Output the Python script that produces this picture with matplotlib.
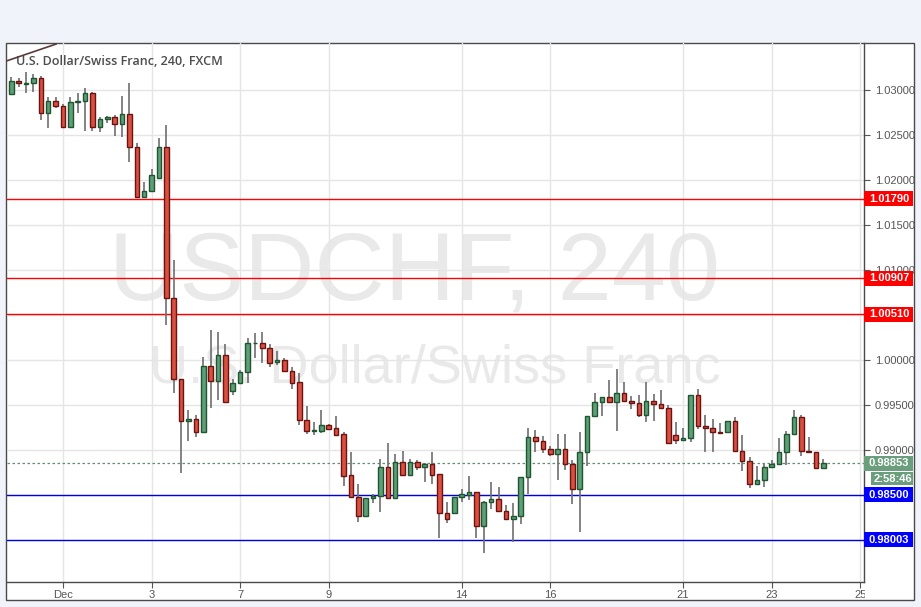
import numpy as np
import matplotlib
matplotlib.use("Agg")
import matplotlib.pyplot as plt
import matplotlib.transforms as mtransforms
from matplotlib.patches import Rectangle

# USD/CHF 4h candles, Nov 30 - Dec 24
opens = [1.02956, 1.03097, 1.03072, 1.03074, 1.03130, 1.02741, 1.02881, 1.02826, 1.02592, 1.02863,
         1.02881, 1.02963, 1.02586, 1.02674, 1.02697, 1.02619, 1.02730, 1.02363, 1.01814, 1.01874,
         1.02019, 1.02363, 1.00686, 0.99786, 0.99322, 0.99341, 0.99203, 0.99933, 0.99770, 1.00056,
         0.99652, 0.99741, 0.99863, 1.00186, 1.00186, 1.00130, 0.99974, 0.99997, 0.99881, 0.99756,
         0.99333, 0.99208, 0.99214, 0.99274, 0.99244, 0.99174, 0.98719, 0.98474, 0.98270, 0.98463,
         0.98489, 0.98811, 0.98463, 0.98867, 0.98719, 0.98867, 0.98814, 0.98844, 0.98730, 0.98303,
         0.98303, 0.98474, 0.98500, 0.98530, 0.98159, 0.98419, 0.98456, 0.98319, 0.98230, 0.98267,
         0.98697, 0.99141, 0.99097, 0.99008, 0.98952, 0.99008, 0.98841, 0.98563, 0.98974, 0.99374,
         0.99530, 0.99586, 0.99530, 0.99630, 0.99541, 0.99519, 0.99386, 0.99541, 0.99508, 0.99463,
         0.99163, 0.99108, 0.99130, 0.99608, 0.99263, 0.99241, 0.99197, 0.99197, 0.99319, 0.98986,
         0.98874, 0.98619, 0.98663, 0.98808, 0.98841, 0.98974, 0.99174, 0.99363, 0.98986, 0.98974,
         0.98797]
highs = [1.03141, 1.03130, 1.03197, 1.03174, 1.03156, 1.02922, 1.02922, 1.02844, 1.02919, 1.02963,
         1.03019, 1.02974, 1.02697, 1.02711, 1.02722, 1.02933, 1.03078, 1.02408, 1.01978, 1.02122,
         1.02467, 1.02611, 1.01111, 0.99790, 0.99444, 0.99386, 1.00037, 1.00333, 1.00314, 1.00178,
         0.99786, 0.99889, 1.00241, 1.00297, 1.00311, 1.00178, 1.00100, 1.00019, 0.99926, 0.99852,
         0.99489, 0.99308, 0.99444, 0.99286, 0.99378, 0.99200, 0.98978, 0.98622, 0.98467, 0.98511,
         0.98897, 0.99074, 0.98956, 0.98989, 0.98900, 0.98889, 0.98852, 0.98978, 0.98733, 0.98422,
         0.98481, 0.98567, 0.98708, 0.98533, 0.98430, 0.98644, 0.98586, 0.98389, 0.98411, 0.98700,
         0.99244, 0.99222, 0.99156, 0.99039, 0.99178, 0.99178, 0.98889, 0.99197, 0.99378, 0.99630,
         0.99589, 0.99774, 0.99897, 0.99752, 0.99597, 0.99608, 0.99752, 0.99619, 0.99663, 0.99497,
         0.99308, 0.99241, 0.99608, 0.99674, 0.99386, 0.99341, 0.99297, 0.99319, 0.99363, 0.99163,
         0.98919, 0.98819, 0.98841, 0.98886, 0.99130, 0.99208, 0.99441, 0.99386, 0.99141, 0.98974,
         0.98897]
lows = [1.02944, 1.03030, 1.02970, 1.02981, 1.02667, 1.02581, 1.02803, 1.02581, 1.02581, 1.02748,
        1.02548, 1.02548, 1.02537, 1.02630, 1.02492, 1.02481, 1.02203, 1.01797, 1.01797, 1.01872,
        1.02017, 1.00389, 0.99630, 0.98748, 0.99103, 0.99148, 0.99186, 0.99463, 0.99556, 0.99519,
        0.99614, 0.99739, 0.99748, 1.00019, 0.99970, 0.99926, 0.99944, 0.99881, 0.99678, 0.99281,
        0.99178, 0.99167, 0.99192, 0.99233, 0.99167, 0.98603, 0.98472, 0.98197, 0.98267, 0.98414,
        0.98314, 0.98463, 0.98461, 0.98717, 0.98717, 0.98778, 0.98648, 0.98622, 0.98026, 0.98186,
        0.98289, 0.98426, 0.98444, 0.98026, 0.97859, 0.98348, 0.98317, 0.98228, 0.97981, 0.98174,
        0.98511, 0.98981, 0.98970, 0.98928, 0.98667, 0.98778, 0.98397, 0.98092, 0.98822, 0.99372,
        0.99374, 0.99528, 0.99206, 0.99539, 0.99452, 0.99370, 0.99308, 0.99319, 0.99461, 0.99072,
        0.99063, 0.99106, 0.99086, 0.99230, 0.98974, 0.98981, 0.99194, 0.99194, 0.98983, 0.98763,
        0.98574, 0.98617, 0.98586, 0.98797, 0.98830, 0.98830, 0.99172, 0.98930, 0.98972, 0.98794,
        0.98794]
closes = [1.03097, 1.03074, 1.03074, 1.03130, 1.02741, 1.02881, 1.02826, 1.02592, 1.02863, 1.02881,
          1.02963, 1.02586, 1.02674, 1.02697, 1.02619, 1.02730, 1.02363, 1.01814, 1.01874, 1.02052,
          1.02363, 1.00686, 0.99786, 0.99322, 0.99341, 0.99203, 0.99933, 0.99770, 1.00056, 0.99530,
          0.99741, 0.99863, 1.00186, 1.00186, 1.00130, 0.99970, 0.99997, 0.99881, 0.99748, 0.99333,
          0.99208, 0.99222, 0.99274, 0.99237, 0.99170, 0.98714, 0.98474, 0.98270, 0.98467, 0.98489,
          0.98811, 0.98463, 0.98867, 0.98719, 0.98867, 0.98814, 0.98844, 0.98726, 0.98303, 0.98237,
          0.98474, 0.98508, 0.98530, 0.98159, 0.98419, 0.98456, 0.98319, 0.98230, 0.98267, 0.98697,
          0.99141, 0.99097, 0.99008, 0.98952, 0.99008, 0.98841, 0.98563, 0.98974, 0.99374, 0.99530,
          0.99586, 0.99530, 0.99630, 0.99541, 0.99519, 0.99386, 0.99541, 0.99508, 0.99463, 0.99074,
          0.99108, 0.99130, 0.99608, 0.99263, 0.99241, 0.99197, 0.99194, 0.99319, 0.98986, 0.98874,
          0.98619, 0.98663, 0.98808, 0.98841, 0.98974, 0.99174, 0.99363, 0.98986, 0.98974, 0.98797,
          0.98853]

# date labels on the bar index axis
date_ticks = [7, 19, 31, 43, 61, 73, 91, 103, 115]
date_labels = ["Dec", "3", "7", "9", "14", "16", "21", "23", "25"]

# price ticks; the ones sitting under a level tag show no label
price_ticks = [0.980, 0.985, 0.990, 0.995, 1.000, 1.005, 1.010, 1.015, 1.020, 1.025, 1.030]
price_labels = ["", "", "0.99000", "0.99500", "1.00000", "", "1.01000", "1.01500",
                "1.02000", "1.02500", "1.03000"]

# drawn support / resistance levels
red_levels = [1.01790, 1.00907, 1.00510]
blue_levels = [0.98500, 0.98003]
last_price = 0.98853
countdown = "2:58:46"

W, H = 921, 607
fig = plt.figure(figsize=(W / 100, H / 100), dpi=100, facecolor="#f0f3fa")

# white chart frame
fig.patches.append(Rectangle((6 / W, 1 - 600 / H), 908 / W, 557 / H, transform=fig.transFigure,
                             facecolor="white", edgecolor="#4a4a4a", lw=1.0, zorder=-1))

ax = fig.add_axes([7 / W, 1 - 582 / H, 857 / W, 539 / H])
ax.set_facecolor("none")
ax.set_xlim(-0.58, 115.5)
ax.set_ylim(0.975333, 1.035222)

for s in ["left", "top"]:
    ax.spines[s].set_visible(False)
for s in ["right", "bottom"]:
    ax.spines[s].set_color("#4a4a4a")
    ax.spines[s].set_linewidth(1.0)

ax.yaxis.tick_right()
ax.set_yticks(price_ticks)
ax.set_yticklabels(price_labels)
ax.set_xticks(date_ticks)
ax.set_xticklabels(date_labels)
ax.tick_params(axis="both", colors="#555555", labelsize=8, length=4, width=0.8)
ax.tick_params(axis="y", pad=4)
ax.tick_params(axis="x", pad=2)
for t in ax.get_xticklabels() + ax.get_yticklabels():
    t.set_fontfamily("Liberation Sans")
    t.set_color("#555555")
ax.grid(True, color="#e5e5e5", lw=1.0, zorder=1)
ax.set_axisbelow(True)

# watermark
ax.text(0.475, 0.57, "USDCHF, 240", transform=ax.transAxes, ha="center", va="center",
        fontsize=70, color="#e9e9e9", family="Liberation Sans", zorder=0.5)
ax.text(0.4995, 0.397, "U.S. Dollar/Swiss Franc", transform=ax.transAxes, ha="center", va="center",
        fontsize=39, color="#e9e9e9", family="Liberation Sans", zorder=0.5)

# title and the small drawn line in the corner
ax.text(0.011, 0.966, "U.S. Dollar/Swiss Franc, 240, FXCM", transform=ax.transAxes, ha="left",
        va="center", fontsize=9.1, color="#4d4d4d", family="Open Sans", weight="semibold", zorder=6)
ax.plot([0.0, 0.0572], [0.967, 0.998], transform=ax.transAxes, color="#5a3a3a", lw=1.2,
        clip_on=False, zorder=6)

# candles
idx = np.arange(len(opens))
o = np.array(opens)
h = np.array(highs)
l = np.array(lows)
c = np.array(closes)
up = c >= o
ax.vlines(idx, l, h, color="#6e6e6e", lw=1.2, zorder=3)
bw = 0.62
for i in idx:
    lo, hi = min(o[i], c[i]), max(o[i], c[i])
    if up[i]:
        fc, ec = "#5e9e78", "#1f5630"
    else:
        fc, ec = "#d9503f", "#6b1212"
    ax.add_patch(Rectangle((i - bw / 2, lo), bw, max(hi - lo, 0.00003), facecolor=fc,
                           edgecolor=ec, lw=1.0, zorder=4))

# horizontal levels
for lv in red_levels:
    ax.axhline(lv, color="#ff0000", lw=1.0, zorder=2.8)
for lv in blue_levels:
    ax.axhline(lv, color="#0000dd", lw=1.0, zorder=2.8)
ax.axhline(last_price, color="#5f8f72", lw=0.9, ls=(0, (2, 2)), zorder=2.8)

# price tags on the right axis
trans = mtransforms.blended_transform_factory(ax.transAxes, ax.transData)
px = 1 / 857
py = (1.035222 - 0.975333) / 539


def tag(price, text, color, x0=0.0, dy=0.0, hpx=15):
    yc = price + dy
    ax.add_patch(Rectangle((1 + x0 * px, yc - hpx / 2 * py), (49 - x0) * px, hpx * py, transform=trans,
                           facecolor=color, edgecolor="none", clip_on=False, zorder=7))
    ax.text(1 + (x0 + 49) / 2 * px + 0.5 * px, yc, text, transform=trans, ha="center", va="center",
            fontsize=8, color="white", weight="bold", family="Liberation Sans", clip_on=False, zorder=8)


for lv in red_levels:
    tag(lv, f"{lv:.5f}", "#ff0000")
for lv in blue_levels:
    tag(lv, f"{lv:.5f}", "#0000ff")
tag(last_price, f"{last_price:.5f}", "#6a9e7d")
tag(last_price, countdown, "#6a9e7d", x0=7, dy=-15.5 * py, hpx=13)

# hide the part of the last date label that runs past the price axis
fig.patches.append(Rectangle((865 / W, 1 - 599 / H), 48 / W, 15 / H, transform=fig.transFigure,
                             facecolor="white", edgecolor="none", zorder=5))

fig.savefig("out.png", dpi=100, facecolor=fig.get_facecolor())
